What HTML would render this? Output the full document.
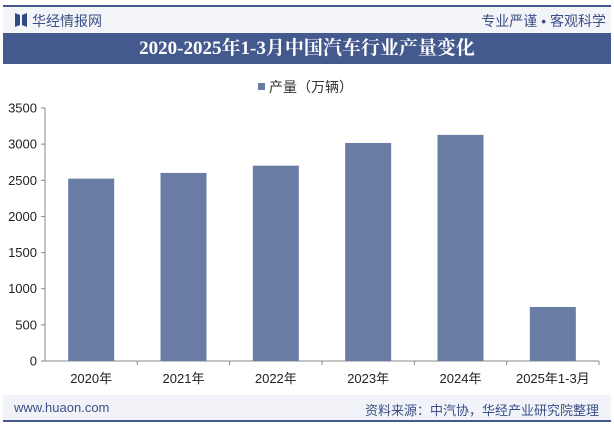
<!DOCTYPE html>
<html><head><meta charset="utf-8"><style>
body{margin:0;width:614px;height:426px;background:#fff;font-family:"Liberation Sans","Noto Sans CJK SC",sans-serif;position:relative;overflow:hidden}
.abs{position:absolute}
</style></head><body>
<div class="abs" style="left:3px;top:5px;width:608px;height:2px;background:#445a8f"></div>
<div class="abs" style="left:3px;top:7px;width:608px;height:26px;background:#f3f4f8"></div>
<svg class="abs" style="left:15px;top:13px" width="12" height="14"><polygon points="0,0 5,2 5,12 0,14" fill="#2f4a85"/><polygon points="12,0 7,2 7,12 12,14" fill="#2f4a85"/></svg>
<div class="abs" style="left:32px;top:11px;font-size:14px;color:#3a4f86">华经情报网</div>
<div class="abs" style="right:8px;top:11px;font-size:14px;color:#3a4f86">专业严谨 • 客观科学</div>
<div class="abs" style="left:3px;top:33px;width:608px;height:31px;background:#445a8f;color:#fff;font-family:'Liberation Serif','Noto Serif CJK SC',serif;font-weight:bold;font-size:19px;line-height:31px;text-align:center">2020-2025年1-3月中国汽车行业产量变化</div>
<div class="abs" style="left:258px;top:77px;font-size:14px;color:#333"><span style="display:inline-block;width:7px;height:7px;background:#687ca4;margin-right:4px;vertical-align:2px"></span>产量（万辆）</div>
<svg class="abs" style="left:0;top:0" width="614" height="426">
<g id="g"></g></svg>
<div class="abs" style="left:3px;top:395px;width:608px;height:25px;background:#f1f3f8"></div>
<div class="abs" style="left:3px;top:420px;width:608px;height:2px;background:#445a8f"></div>
<div class="abs" style="left:14px;top:400px;font-size:13px;color:#3a4f86">www.huaon.com</div>
<div class="abs" style="right:15px;top:400px;font-size:13px;color:#3a4f86">资料来源：中汽协，华经产业研究院整理</div>
<script>
const categories=["2020年","2021年","2022年","2023年","2024年","2025年1-3月"];
const values=[2523,2602,2702,3016,3128,747];
const ticks=[0,500,1000,1500,2000,2500,3000,3500];
const ns="http://www.w3.org/2000/svg",g=document.getElementById('g');
const x0=45,x1=599,y0=361,yTop=108,maxV=3500;
const band=(x1-x0)/categories.length;
const y=v=>y0-(v/maxV)*(y0-yTop);
const xc=i=>x0+band*(i+0.5);
function mk(t,a){const e=document.createElementNS(ns,t);for(const k in a)e.setAttribute(k,a[k]);g.appendChild(e);return e;}
ticks.forEach(t=>{
 const l=mk('line',{x1:x0-4,x2:x0,y1:y(t),y2:y(t),stroke:'#888'});
 
 
 const tx=mk('text',{x:x0-8,y:y(t)+4.5,'text-anchor':'end','font-size':13,fill:'#222','font-family':'Liberation Sans'});tx.textContent=t;
 
 
});
const ya=mk('line',{x1:x0,x2:x0,y1:yTop,y2:y0,stroke:'#888'});


const xa=mk('line',{x1:x0,x2:x1,y1:y0,y2:y0,stroke:'#888'});


categories.forEach((c,i)=>{
 const b=mk('rect',{x:xc(i)-23,y:y(values[i]),width:46,height:y0-y(values[i]),fill:'#687ca4'});
 
 
 const tk=mk('line',{x1:x0+band*(i+1),x2:x0+band*(i+1),y1:y0,y2:y0+4,stroke:'#888'});
 
 
 const tx=mk('text',{x:xc(i),y:y0+22,'text-anchor':'middle','font-size':13,fill:'#222','font-family':'Liberation Sans, Noto Sans CJK SC, sans-serif'});tx.textContent=c;
 
 
});
</script>
</body></html>
